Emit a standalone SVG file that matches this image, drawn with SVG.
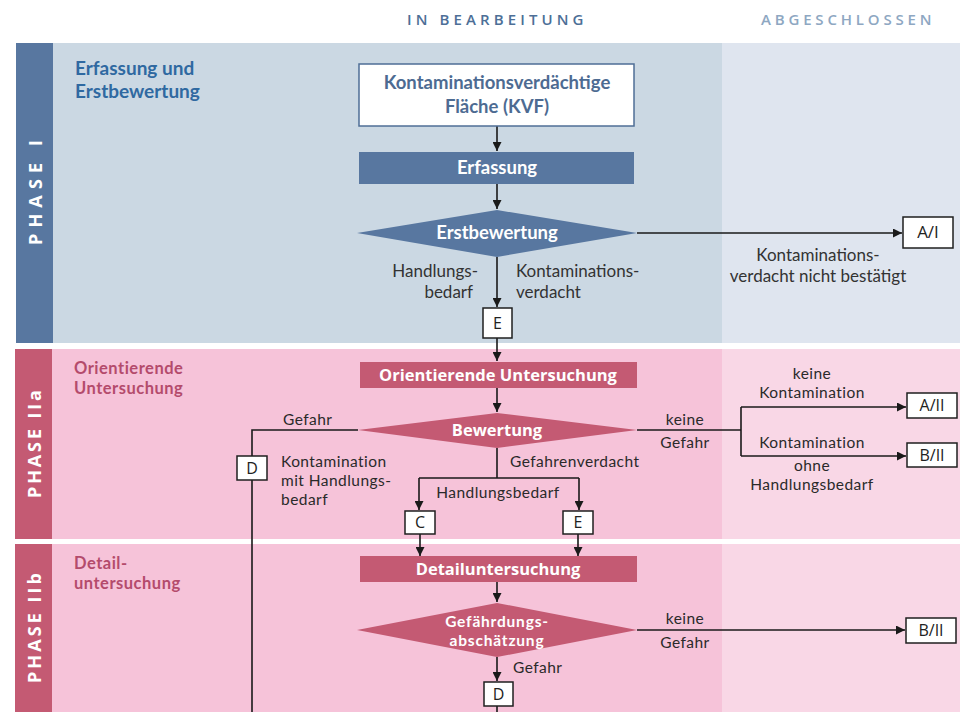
<svg xmlns="http://www.w3.org/2000/svg" width="960" height="712" viewBox="0 0 960 712">
<defs>
<marker id="ah" viewBox="0 0 10 10" refX="10" refY="5" markerWidth="9" markerHeight="9" markerUnits="userSpaceOnUse" orient="auto">
<path d="M0,0 L10,5 L0,10 z" fill="#1a1a1a"/>
</marker>
<style>
.hdr{font-family:"Open Sans","Liberation Sans",sans-serif;font-size:15px;font-weight:600;letter-spacing:3.5px}
.ph{font-family:"Open Sans","Liberation Sans",sans-serif;font-size:18px;font-weight:bold;fill:#fff}
.t1{font-family:Lato,"Liberation Sans",sans-serif;font-size:19px;font-weight:bold;fill:#2f69a1}
.t2{font-family:Lato,"Liberation Sans",sans-serif;font-size:16.5px;font-weight:bold;fill:#b44b6c;letter-spacing:0.5px}
.nb{font-family:Lato,"Liberation Sans",sans-serif;font-size:18.5px;font-weight:bold;text-anchor:middle}
.np{font-family:"Open Sans","Liberation Sans",sans-serif;font-size:16.5px;font-weight:bold;fill:#fff;text-anchor:middle}
.np2{font-family:Lato,"Liberation Sans",sans-serif;font-size:15.5px;font-weight:bold;fill:#fff;text-anchor:middle;letter-spacing:0.8px}
.l1{font-family:Lato,"Liberation Sans",sans-serif;font-size:17px;fill:#333}
.l2{font-family:Lato,"Liberation Sans",sans-serif;font-size:15.5px;fill:#2a2a2a;letter-spacing:0.45px}
.bx{fill:#fff;stroke:#1f1f1f;stroke-width:1.5}
.bt{font-family:"Open Sans","Liberation Sans",sans-serif;font-size:16px;fill:#222;text-anchor:middle}
.cn{fill:none;stroke:#1a1a1a;stroke-width:1.6}
.ar{marker-end:url(#ah)}
</style>
</defs>
<rect width="960" height="712" fill="#fff"/>
<!-- header -->
<text class="hdr" x="407" y="25" fill="#4d6f97" textLength="180">IN BEARBEITUNG</text>
<text class="hdr" x="761" y="25" fill="#8ea7c2" textLength="174">ABGESCHLOSSEN</text>
<!-- bands -->
<g id="band-phase1">
<rect x="53" y="43" width="669" height="300" fill="#cbd8e3"/>
<rect x="722" y="43" width="238" height="300" fill="#dfe5ef"/>
<rect x="16" y="43" width="37" height="300" fill="#5877a0"/>
<text class="ph" transform="translate(42,245) rotate(-90)" textLength="105">PHASE I</text>
<text class="t1" x="75" y="75">Erfassung und</text>
<text class="t1" x="75" y="98">Erstbewertung</text>
</g>
<g id="band-phase2a">
<rect x="52" y="349" width="670" height="190" fill="#f6c3d9"/>
<rect x="722" y="349" width="238" height="190" fill="#f9d7e6"/>
<rect x="15" y="349" width="37" height="190" fill="#c45a73"/>
<text class="ph" transform="translate(41,498) rotate(-90)" textLength="108">PHASE IIa</text>
<text class="t2" x="74" y="374">Orientierende</text>
<text class="t2" x="74" y="394">Untersuchung</text>
</g>
<g id="band-phase2b">
<rect x="52" y="544" width="670" height="168" fill="#f6c3d9"/>
<rect x="722" y="544" width="238" height="168" fill="#f9d7e6"/>
<rect x="15" y="544" width="37" height="168" fill="#c45a73"/>
<text class="ph" transform="translate(41,683) rotate(-90)" textLength="110">PHASE IIb</text>
<text class="t2" x="74" y="569">Detail-</text>
<text class="t2" x="74" y="589">untersuchung</text>
</g>
<!-- connectors -->
<g id="connectors">
<path class="cn ar" d="M497,126 V151"/>
<path class="cn ar" d="M497,184 V209"/>
<path class="cn ar" d="M637,233 H902"/>
<path class="cn ar" d="M497,257 V307"/>
<path class="cn ar" d="M497,338 V361"/>
<path class="cn ar" d="M497,388 V412"/>
<path class="cn" d="M358,430 H252 V712"/>
<path class="cn" d="M637,430 H741"/>
<path class="cn" d="M741,407 V456"/>
<path class="cn ar" d="M741,407 H906"/>
<path class="cn ar" d="M741,456 H906"/>
<path class="cn" d="M497,448 V478 M419,478 H579"/>
<path class="cn ar" d="M419,478 V510"/>
<path class="cn ar" d="M579,478 V510"/>
<path class="cn ar" d="M420,534 V556"/>
<path class="cn ar" d="M578,534 V556"/>
<path class="cn ar" d="M497,582 V602"/>
<path class="cn ar" d="M637,630 H905"/>
<path class="cn ar" d="M497,657 V681"/>
<path class="cn" d="M497,706 V712"/>
</g>
<!-- phase I nodes -->
<g id="kvf">
<rect x="359" y="64" width="275" height="62" fill="#fff" stroke="#4f6e96" stroke-width="1.5"/>
<text class="nb" x="497" y="89" fill="#4d6b92">Kontaminationsverdächtige</text>
<text class="nb" x="497" y="113" fill="#4d6b92">Fläche (KVF)</text>
</g>
<g id="erfassung">
<rect x="359" y="152" width="275" height="32" fill="#5877a0"/>
<text class="nb" x="497" y="174" fill="#fff">Erfassung</text>
</g>
<g id="erstbewertung">
<polygon points="357,233 497,210 637,233 497,257" fill="#5877a0"/>
<text class="nb" x="497" y="239" fill="#fff">Erstbewertung</text>
</g>
<g id="ai">
<rect class="bx" x="903" y="217" width="50" height="31"/>
<text class="bt" x="928" y="238" style="font-size:17px">A/I</text>
</g>
<g id="e1">
<rect class="bx" x="483" y="308" width="29" height="30"/>
<text class="bt" x="497.5" y="329">E</text>
</g>
<g id="labels-phase1">
<text class="l1" x="478" y="277" text-anchor="end">Handlungs-</text>
<text class="l1" x="473" y="298" text-anchor="end">bedarf</text>
<text class="l1" x="516" y="277">Kontaminations-</text>
<text class="l1" x="516" y="298">verdacht</text>
<text class="l1" x="818" y="261" text-anchor="middle">Kontaminations-</text>
<text class="l1" x="818" y="282" text-anchor="middle">verdacht nicht bestätigt</text>
</g>
<!-- phase IIa nodes -->
<g id="orientierende">
<rect x="360" y="362" width="277" height="26" fill="#c45a73"/>
<text class="np" x="498" y="381">Orientierende Untersuchung</text>
</g>
<g id="bewertung">
<polygon points="358,430 497,413 637,430 497,448" fill="#c45a73"/>
<text class="np" x="497" y="436">Bewertung</text>
</g>
<g id="d1">
<rect class="bx" x="237" y="456" width="30" height="24"/>
<text class="bt" x="252" y="474">D</text>
</g>
<g id="c1">
<rect class="bx" x="405" y="511" width="30" height="23"/>
<text class="bt" x="420" y="528">C</text>
</g>
<g id="e2">
<rect class="bx" x="563" y="511" width="30" height="23"/>
<text class="bt" x="578" y="528">E</text>
</g>
<g id="aii">
<rect class="bx" x="907" y="393" width="50" height="25"/>
<text class="bt" x="932" y="411">A/II</text>
</g>
<g id="bii1">
<rect class="bx" x="907" y="443" width="50" height="24"/>
<text class="bt" x="932" y="461">B/II</text>
</g>
<g id="labels-phase2a">
<text class="l2" x="283" y="425">Gefahr</text>
<text class="l2" x="281" y="467">Kontamination</text>
<text class="l2" x="281" y="486">mit Handlungs-</text>
<text class="l2" x="281" y="505">bedarf</text>
<text class="l2" x="685" y="425" text-anchor="middle">keine</text>
<text class="l2" x="685" y="448" text-anchor="middle">Gefahr</text>
<text class="l2" x="812" y="379" text-anchor="middle">keine</text>
<text class="l2" x="812" y="398" text-anchor="middle">Kontamination</text>
<text class="l2" x="812" y="448" text-anchor="middle">Kontamination</text>
<text class="l2" x="812" y="471" text-anchor="middle">ohne</text>
<text class="l2" x="812" y="490" text-anchor="middle">Handlungsbedarf</text>
<text class="l2" x="510" y="467">Gefahrenverdacht</text>
<text class="l2" x="498" y="498" text-anchor="middle">Handlungsbedarf</text>
</g>
<!-- phase IIb nodes -->
<g id="detail">
<rect x="360" y="556" width="277" height="26" fill="#c45a73"/>
<text class="np" x="498" y="575">Detailuntersuchung</text>
</g>
<g id="gefaehrdung">
<polygon points="357,630 497,603 637,630 497,657" fill="#c45a73"/>
<text class="np2" x="497" y="627">Gefährdungs-</text>
<text class="np2" x="497" y="646">abschätzung</text>
</g>
<g id="bii2">
<rect class="bx" x="906" y="618" width="50" height="25"/>
<text class="bt" x="931" y="636">B/II</text>
</g>
<g id="d2">
<rect class="bx" x="484" y="682" width="29" height="24"/>
<text class="bt" x="498.5" y="700">D</text>
</g>
<g id="labels-phase2b">
<text class="l2" x="685" y="624" text-anchor="middle">keine</text>
<text class="l2" x="685" y="648" text-anchor="middle">Gefahr</text>
<text class="l2" x="513" y="673">Gefahr</text>
</g>
</svg>
